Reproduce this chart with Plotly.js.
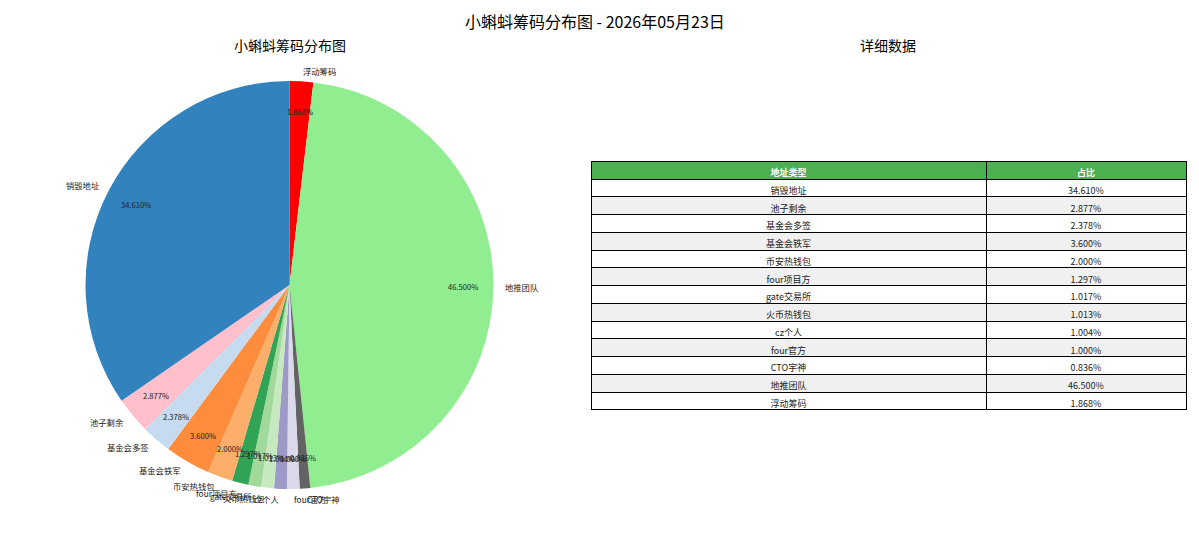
<!DOCTYPE html>
<html>
<head>
<meta charset="utf-8">
<script src="https://cdn.plot.ly/plotly-3.0.1.min.js"></script>
<style>html,body{margin:0;padding:0;background:#fff;}#chart{width:1199px;height:554px;}</style>
</head>
<body>
<div id="chart"></div>
<script>
const categories = ['销毁地址','池子剩余','基金会多签','基金会铁军','币安热钱包','four项目方','gate交易所','火币热钱包','cz个人','four官方','CTO宇神','地推团队','浮动筹码'];
const shares = [34.610, 2.877, 2.378, 3.600, 2.000, 1.297, 1.017, 1.013, 1.004, 1.000, 0.836, 46.500, 1.868];
const sliceColors = ['#3182bd','#ffc0cb','#c6dbef','#fd8d3c','#fdae6b','#31a354','#a1d99b','#c7e9c0','#9e9ac8','#dadaeb','#636363','#90ee90','#ff0000'];
const tableHeader = ['地址类型','占比'];
const mainTitle = '小蝌蚪筹码分布图 - 2026年05月23日';
const pieTitle = '小蝌蚪筹码分布图';
const tableTitle = '详细数据';

const W = 1199, H = 554;
const FONT = '"Noto Sans CJK SC", "Noto Sans", sans-serif';
const pieDomain = {x: [85 / W, 494 / W], y: [65 / H, 473 / H]};

const total = shares.reduce((a, b) => a + b, 0);
const pctText = shares.map(v => (v / total * 100).toFixed(3) + '%');

// Geometry derived from the pie domain (same math Plotly uses for the radius)
const dwPx = (pieDomain.x[1] - pieDomain.x[0]) * W;
const dhPx = (pieDomain.y[1] - pieDomain.y[0]) * H;
const rPx = Math.min(dwPx, dhPx) / 2;
const cxPx = (pieDomain.x[0] + pieDomain.x[1]) / 2 * W;
const cyPx = (pieDomain.y[0] + pieDomain.y[1]) / 2 * H;

const annotations = [];
let cum = 0;
shares.forEach((v, i) => {
  const mid = (cum + v / 2) / total;
  cum += v;
  const th = (90 + 360 * mid) * Math.PI / 180;
  const c = Math.cos(th), s = Math.sin(th);
  const lx = cxPx + 1.05 * rPx * c, ly = cyPx + 1.05 * rPx * s;
  annotations.push({
    xref: 'paper', yref: 'paper', x: lx / W, y: ly / H,
    text: categories[i], showarrow: false,
    xanchor: c > 0 ? 'left' : 'right', yanchor: 'middle',
    font: {family: FONT, size: 8.3, color: '#222'}, borderpad: 0
  });
  const px = cxPx + 0.85 * rPx * c, py = cyPx + 0.85 * rPx * s;
  annotations.push({
    xref: 'paper', yref: 'paper', x: px / W, y: py / H,
    text: pctText[i], showarrow: false,
    xanchor: 'center', yanchor: 'middle',
    font: {family: FONT, size: 7.6, color: '#222'}, borderpad: 0
  });
});

annotations.push({xref: 'paper', yref: 'paper', x: 595 / W, y: 1 - 21 / H, text: mainTitle, showarrow: false,
  xanchor: 'center', yanchor: 'middle', font: {family: FONT, size: 16, color: '#000'}});
annotations.push({xref: 'paper', yref: 'paper', x: 289.5 / W, y: 1 - 45 / H, text: pieTitle, showarrow: false,
  xanchor: 'center', yanchor: 'middle', font: {family: FONT, size: 14, color: '#000'}});
annotations.push({xref: 'paper', yref: 'paper', x: 888 / W, y: 1 - 45 / H, text: tableTitle, showarrow: false,
  xanchor: 'center', yanchor: 'middle', font: {family: FONT, size: 14, color: '#000'}});

const rowFill = categories.map((_, i) => i % 2 === 0 ? '#ffffff' : '#f0f0f0');

// Pie drawn clockwise from 12 o'clock over the reversed order = counterclockwise in original order
const pieLabels = categories.slice().reverse();
const pieValues = shares.slice().reverse();
const pieColors = sliceColors.slice().reverse();

const data = [
  {
    type: 'pie',
    labels: pieLabels,
    values: pieValues,
    sort: false,
    direction: 'clockwise',
    rotation: 0,
    marker: {colors: pieColors, line: {width: 0}},
    textinfo: 'none',
    hoverinfo: 'label+percent',
    showlegend: false,
    domain: pieDomain
  },
  {
    type: 'table',
    domain: {x: [591 / W, 1186 / W], y: [0.1, 1 - 161 / H]},
    columnwidth: [395, 200],
    header: {
      values: [[tableHeader[0]], [tableHeader[1]]],
      fill: {color: '#4caf50'},
      line: {color: '#000', width: 1},
      align: 'center',
      height: 18,
      font: {family: FONT, size: 9, color: '#fff', weight: 'bold'}
    },
    cells: {
      values: [categories, pctText],
      fill: {color: [rowFill, rowFill]},
      line: {color: '#000', width: 1},
      align: 'center',
      height: 17.75,
      font: {family: FONT, size: 9, color: '#222'}
    }
  }
];

const layout = {
  width: W, height: H,
  margin: {l: 0, r: 0, t: 0, b: 0},
  paper_bgcolor: '#fff',
  showlegend: false,
  annotations: annotations
};

Plotly.newPlot('chart', data, layout, {displayModeBar: false, staticPlot: true});
</script>
</body>
</html>
